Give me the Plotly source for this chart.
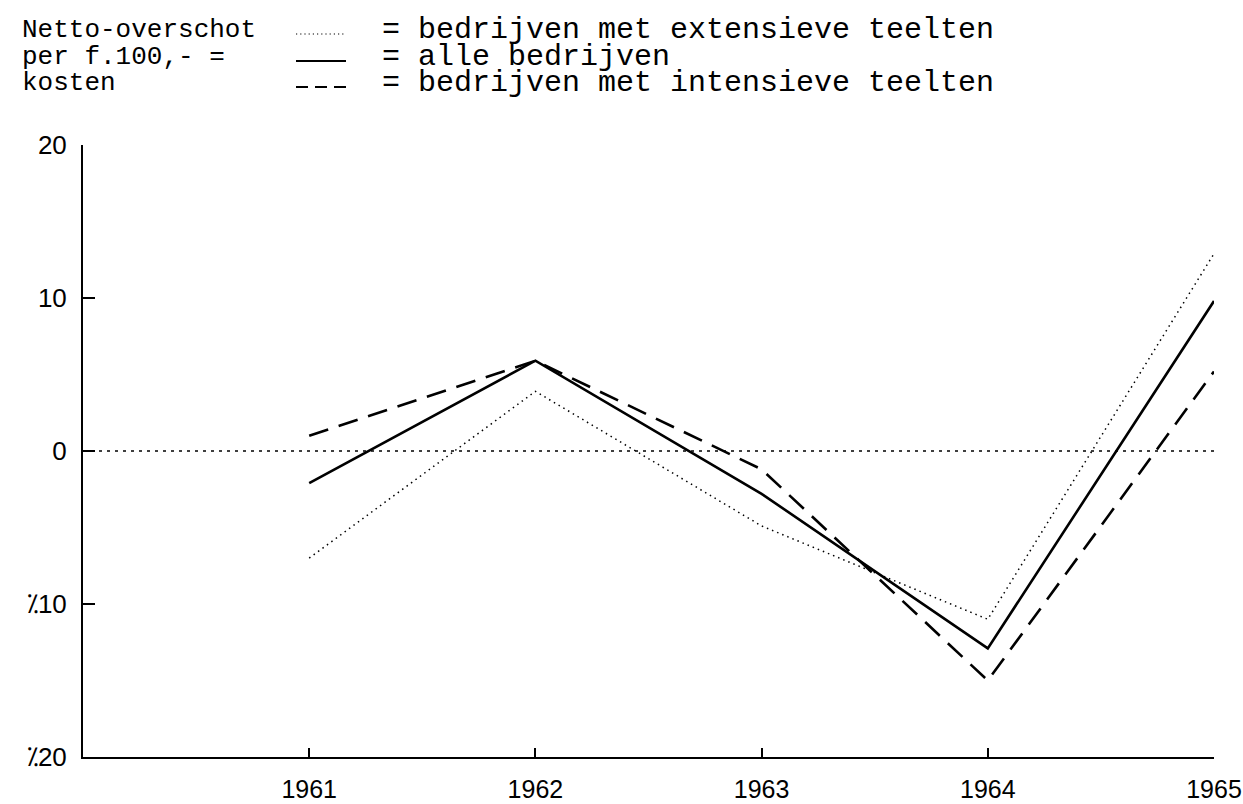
import plotly.graph_objects as go

# ---- data ----
years = [1961, 1962, 1963, 1964, 1965]
extensief = [-7.0, 3.9, -4.9, -11.0, 12.9]   # bedrijven met extensieve teelten (dotted)
alle = [-2.1, 5.9, -2.8, -12.9, 9.8]         # alle bedrijven (solid)
intensief = [1.0, 5.9, -1.2, -15.0, 5.2]     # bedrijven met intensieve teelten (dashed)

series_names = [
    "= bedrijven met extensieve teelten",
    "= alle bedrijven",
    "= bedrijven met intensieve teelten",
]
title_lines = ["Netto-overschot", "per f.100,- =", "kosten"]
y_tickvals = [20, 10, 0, -10, -20]
y_ticktext = ["20", "10", "0", "⁒10", "⁒20"]
x_tickvals = years
x_ticktext = [str(y) for y in years]

# ---- layout geometry ----
W, H = 1243, 804
ML, MR, MT, MB = 83, 29, 145, 47
PW, PH = W - ML - MR, H - MT - MB


def px(xp):
    return (xp - ML) / PW


def py(yp):
    return (H - MB - yp) / PH


MONO = "Liberation Mono, DejaVu Sans Mono, monospace"
SANS = "Liberation Sans, Arial, sans-serif"

styles = [
    dict(color="black", width=1.5, dash="1.5px,4px"),
    dict(color="black", width=2.6, dash="solid"),
    dict(color="black", width=2.6, dash="20px,11px"),
]
sample_dash = ["1.2px,3px", "solid", "12px,7px"]
series = [extensief, alle, intensief]

fig = go.Figure()
for name, vals, st in zip(series_names, series, styles):
    fig.add_trace(go.Scatter(x=years, y=vals, mode="lines", name=name,
                             line=st, showlegend=False, hoverinfo="skip"))

# dotted zero reference line
fig.add_shape(type="line", xref="paper", yref="y", x0=0, x1=1, y0=0, y1=0,
              line=dict(color="black", width=1.5, dash="3px,5px"))

# hand-made legend block (typewriter style)
row_y = [30, 57, 83]
annotations = []
for txt, ry in zip(title_lines, row_y):
    annotations.append(dict(text=txt, xref="paper", yref="paper", x=px(20), y=py(ry),
                            xanchor="left", yanchor="middle", showarrow=False,
                            font=dict(family=MONO, size=26, color="black")))
for txt, ry, st, sd in zip(series_names, row_y, styles, sample_dash):
    annotations.append(dict(text=txt, xref="paper", yref="paper", x=px(380), y=py(ry),
                            xanchor="left", yanchor="middle", showarrow=False,
                            font=dict(family=MONO, size=30, color="black")))
    fig.add_shape(type="line", xref="paper", yref="paper",
                  x0=px(296), x1=px(346), y0=py(ry + 4), y1=py(ry + 4),
                  line=dict(color="black", width=1.2 if sd != "solid" and st["width"] < 2 else 2.2,
                            dash=sd))

fig.update_layout(
    width=W, height=H,
    margin=dict(l=ML, r=MR, t=MT, b=MB, autoexpand=False),
    paper_bgcolor="white", plot_bgcolor="white",
    annotations=annotations,
    showlegend=False,
)
fig.update_xaxes(
    range=[1960, 1965], tickvals=x_tickvals, ticktext=x_ticktext, automargin=False,
    showgrid=False, zeroline=False, showline=True, linecolor="black", linewidth=2,
    ticks="inside", ticklen=9, tickwidth=1.5, tickcolor="black",
    tickfont=dict(family=SANS, size=25, color="black"), ticklabelstandoff=9,
)
fig.update_yaxes(
    range=[-20, 20], tickvals=y_tickvals, ticktext=y_ticktext, automargin=False,
    showgrid=False, zeroline=False, showline=True, linecolor="black", linewidth=2,
    ticks="inside", ticklen=12, tickwidth=2, tickcolor="black",
    tickfont=dict(family=SANS, size=26, color="black"), ticklabelstandoff=9,
)

fig.write_html(
    "out.html",
    config={"displayModeBar": False},
    post_script="document.body.style.margin='0';document.body.style.overflow='hidden';",
)
